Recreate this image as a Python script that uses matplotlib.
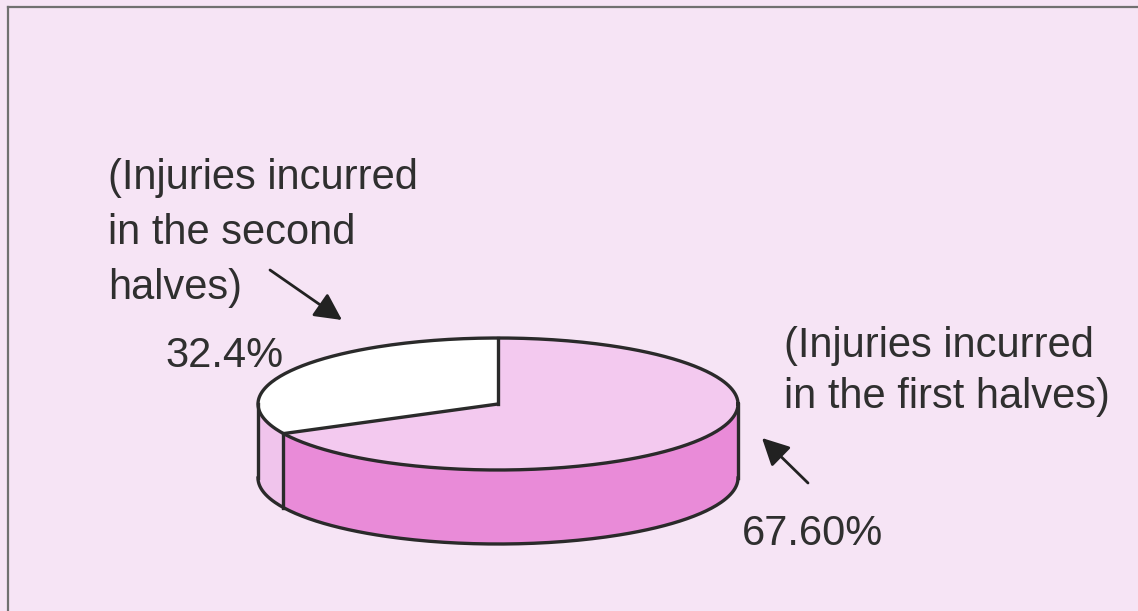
import numpy as np
import matplotlib
matplotlib.use("Agg")
import matplotlib.pyplot as plt
from matplotlib.patches import Polygon

# ---- data ----
slice_names = ["Injuries incurred in the first halves", "Injuries incurred in the second halves"]
slice_values = [67.6, 32.4]
slice_value_labels = ["67.60%", "32.4%"]
label_first = ["(Injuries incurred", "in the first halves)"]
label_second = ["(Injuries incurred", "in the second", "halves)"]

# ---- style ----
W, H = 1138, 611
BG = "#f6e4f5"
TOP_PINK = "#f3c9ef"
SIDE_PINK = "#e98bd8"
WHITE = "#ffffff"
SIDE_WHITE = "#f0c4ec"
EDGE = "#2a2a2a"
TXT = "#2f2f2f"
FONT = "Liberation Sans"

fig = plt.figure(figsize=(W / 100, H / 100), dpi=100, facecolor=BG)
ax = fig.add_axes([0, 0, 1, 1])
ax.set_xlim(0, W)
ax.set_ylim(H, 0)
ax.axis("off")
ax.set_facecolor(BG)

# frame (top and left edges visible)
ax.plot([8, W], [7, 7], color="#707070", lw=1.6, zorder=1)
ax.plot([8, 8], [7, H], color="#707070", lw=1.6, zorder=1)

# ---- 3D pie geometry ----
cx, cy = 498, 404
rx, ry = 240, 66
depth = 74
start = 90.0

def pt(theta_deg, dz=0.0):
    t = np.radians(theta_deg)
    return cx + rx * np.cos(t), cy - ry * np.sin(t) + dz

# second-halves (white) slice first counterclockwise from top, then first-halves
order = [1, 0]
top_colors = {0: TOP_PINK, 1: WHITE}
side_colors = {0: SIDE_PINK, 1: SIDE_WHITE}
angles = {}
a = start
for idx in order:
    span = slice_values[idx] / sum(slice_values) * 360.0
    angles[idx] = (a, a + span)
    a += span

# side faces (visible front between 180 and 360 deg, modulo 360)
for idx in order:
    a0, a1 = angles[idx]
    for off in (0, 360, -360):
        lo = max(a0 + off, 180)
        hi = min(a1 + off, 360)
        if hi > lo:
            th = np.linspace(lo, hi, 120)
            x, y = pt(th)
            xb, yb = pt(th[::-1], depth)
            poly = np.column_stack([np.r_[x, xb], np.r_[y, yb]])
            ax.add_patch(Polygon(poly, closed=True, facecolor=side_colors[idx],
                                 edgecolor="none", zorder=2))

# top faces
for idx in order:
    a0, a1 = angles[idx]
    th = np.linspace(a0, a1, 200)
    x, y = pt(th)
    poly = np.column_stack([np.r_[cx, x], np.r_[cy, y]])
    ax.add_patch(Polygon(poly, closed=True, facecolor=top_colors[idx],
                         edgecolor="none", zorder=3))

# outlines
lw = 2.4
th = np.linspace(0, 360, 400)
x, y = pt(th)
ax.plot(x, y, color=EDGE, lw=lw, zorder=4)
th = np.linspace(180, 360, 200)
x, y = pt(th, depth)
ax.plot(x, y, color=EDGE, lw=lw, zorder=4)
for t in (180, 360):
    x0, y0 = pt(t)
    ax.plot([x0, x0], [y0, y0 + depth], color=EDGE, lw=lw, zorder=4)
for idx in order:
    a0, _ = angles[idx]
    x0, y0 = pt(a0)
    ax.plot([cx, x0], [cy, y0], color=EDGE, lw=lw, zorder=4)
    if 180 < (a0 % 360) < 360:
        ax.plot([x0, x0], [y0, y0 + depth], color=EDGE, lw=lw, zorder=4)

# ---- labels ----
fs = 30
for i, line in enumerate(label_second):
    ax.text(108, 189 + i * 55, line, fontsize=fs, family=FONT, color=TXT,
            ha="left", va="baseline", zorder=5)
for i, line in enumerate(label_first):
    ax.text(784, 357 + i * 51, line, fontsize=fs, family=FONT, color=TXT,
            ha="left", va="baseline", zorder=5)
ax.text(165, 367, slice_value_labels[1], fontsize=fs, family=FONT, color=TXT,
        ha="left", va="baseline", zorder=5)
ax.text(742, 545, slice_value_labels[0], fontsize=fs, family=FONT, color=TXT,
        ha="left", va="baseline", zorder=5)

# arrows
arrow_kw = dict(arrowstyle="-|>,head_length=0.55,head_width=0.28", color="#222222",
                lw=2.0, mutation_scale=30, shrinkA=0, shrinkB=0)
ax.annotate("", xy=(342, 320), xytext=(270, 270), arrowprops=arrow_kw, zorder=5)
ax.annotate("", xy=(762, 438), xytext=(808, 483), arrowprops=arrow_kw, zorder=5)

fig.savefig("out.png", dpi=100, facecolor=BG)
